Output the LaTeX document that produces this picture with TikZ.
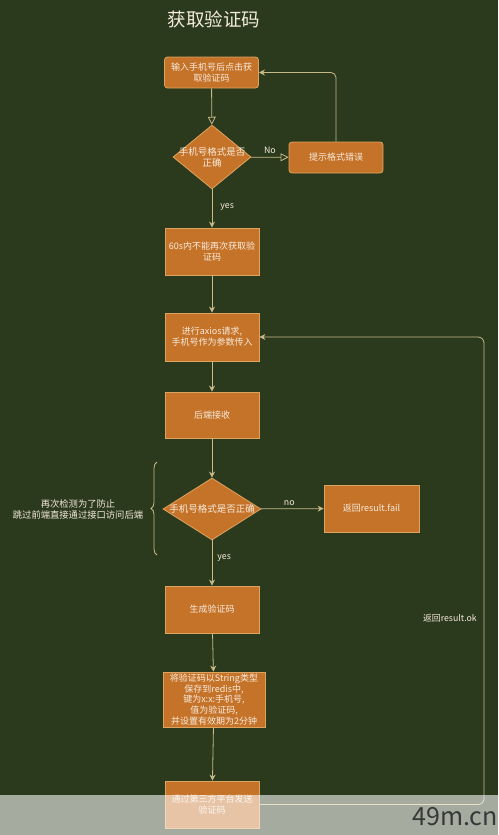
\documentclass[tikz,border=0pt]{standalone}
\usepackage{fontspec}
\setmainfont{Noto Sans CJK SC}
\usetikzlibrary{shapes.geometric,arrows.meta,decorations.pathreplacing}
\definecolor{bg}{HTML}{2B391C}
\definecolor{boxfill}{HTML}{C6732A}
\definecolor{boxline}{HTML}{DDA45F}
\definecolor{conn}{HTML}{C9BA8A}
\definecolor{txt}{HTML}{F6ECDD}
\begin{document}
\begin{tikzpicture}[x=1pt,y=-1pt,
  box/.style={draw=boxline, fill=boxfill, line width=0.8pt, text=txt,
    font=\fontsize{9}{11}\selectfont, align=center,
    minimum width=94pt, minimum height=47pt, inner sep=1pt},
  rbox/.style={box, rounded corners=3pt, minimum height=31pt},
  dia/.style={shape=diamond, draw=boxline, fill=boxfill, line width=0.8pt, inner sep=0pt},
  dtext/.style={text=txt, font=\fontsize{9.5}{11}\selectfont, align=center, inner sep=0pt},
  lbl/.style={text=txt, font=\fontsize{8.8}{10}\selectfont, inner sep=0pt},
  conn/.style={draw=conn, line width=0.8pt},
  openarr/.style={conn, -{Triangle[open, length=8pt, width=8pt, fill=bg]}},
  arr/.style={conn, -{Stealth[length=6pt, width=6pt]}}
]
\useasboundingbox (0,0) rectangle (498,835);
\fill[bg] (0,0) rectangle (498,835);

\node[text=txt, font=\fontsize{18.5}{21}\selectfont, inner sep=0pt] (title) at (214,19) {获取验证码};

\node[rbox] (b1) at (211.5,72.5) {输入手机号后点击获\\取验证码};
\node[dia, minimum width=78pt, minimum height=64pt] (d1) at (212,157) {};
\node[dtext] (d1t) at (d1) {手机号格式是否\\正确};
\node[rbox] (b2) at (336,157.5) {提示格式错误};
\node[box] (b3) at (212,251.5) {60s内不能再次获取验\\证码};
\node[box, minimum height=48pt] (b4) at (212,337) {进行axios请求,\\手机号作为参数传入};
\node[box, minimum height=46pt] (b5) at (212,415) {后端接收};
\node[dia, minimum width=98pt, minimum height=62pt] (d2) at (212,509) {};
\node[dtext] (d2t) at (d2) {手机号格式是否正确};
\node[box, minimum width=95pt] (b6) at (371.5,508.5) {返回result.fail};
\node[box] (b7) at (212,609.5) {生成验证码};
\node[box, minimum width=102pt, minimum height=55pt, font=\fontsize{9}{10.6}\selectfont] (b8) at (214,699.5) {将验证码以String类型\\保存到redis中,\\键为x:x:手机号,\\值为验证码,\\并设置有效期为2分钟};
\node[box] (b9) at (212,804.5) {通过第三方平台发送\\验证码};

% connectors
\draw[openarr] (b1) -- (d1);
\draw[openarr] (d1) -- node[lbl, above=3pt, pos=0.5] (lno) {No} (b2);
\draw[arr, rounded corners=5pt] (b2.north) |- (b1.east);
\draw[arr] (d1) -- node[lbl, right=8pt, pos=0.45] (lyes1) {yes} (b3);
\draw[arr] (b3) -- (b4);
\draw[arr] (b4) -- (b5);
\draw[arr] (b5) -- (d2);
\draw[arr] (d2) -- node[lbl, above=3pt, pos=0.45] (lno2) {no} (b6);
\draw[arr] (d2) -- node[lbl, right=5pt, pos=0.4] (lyes2) {yes} (b7);
\draw[arr] (b7) -- (b8);
\draw[arr] (b8) -- (b9);
\coordinate (r1) at (484,804.5);
\coordinate (r2) at (484,337);
\draw[arr, rounded corners=6pt] (b9.east) -- (r1) -- (r2) -- (b4.east);
\node[lbl] (okl) at (450,618) {返回result.ok};

% brace
\draw[conn, decorate, decoration={brace, amplitude=6pt}] (157,555) -- (157,462);
\node[text=txt, font=\fontsize{9.3}{11}\selectfont, align=center, inner sep=0pt] (note) at (78,509) {再次检测为了防止\\跳过前端直接通过接口访问后端};

% watermark band
\fill[white, opacity=0.58] (0,795) rectangle (498,835);
\node[text=black!78, font=\fontsize{25}{27}\selectfont, anchor=east, inner sep=0pt] (wm) at (498,817) {49m.cn};
\end{tikzpicture}
\end{document}
